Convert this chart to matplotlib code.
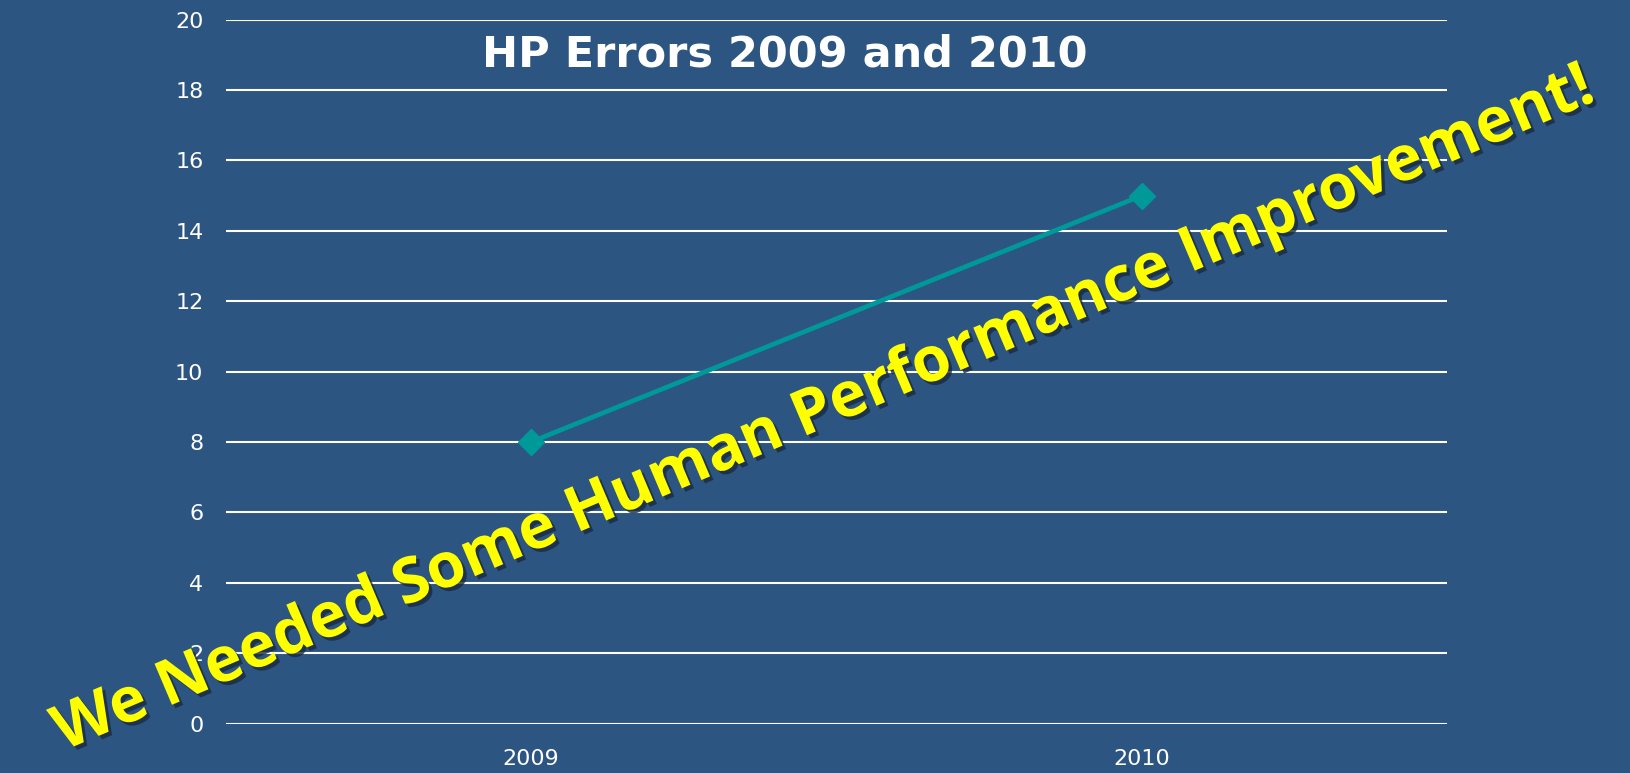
import matplotlib.pyplot as plt
import matplotlib.patheffects as pe

# data
years = ['2009', '2010']
errors = [8, 15]
y_ticks = [0, 2, 4, 6, 8, 10, 12, 14, 16, 18, 20]

bg = '#2c5582'

fig = plt.figure(figsize=(16.3, 7.73), dpi=100, facecolor=bg)
ax = fig.add_axes([0.1384, 0.064, 0.7493, 0.9105], facecolor=bg)

x = range(len(years))
ax.plot(x, errors, color='#009999', lw=3.4, marker='D', markersize=13, zorder=3)

ax.set_xlim(-0.5, len(years) - 0.5)
ax.set_ylim(0, 20)
ax.set_yticks(y_ticks)
ax.set_xticks(list(x))
ax.set_xticklabels(years)
ax.grid(axis='y', color='white', lw=1.5)
ax.set_axisbelow(True)
for s in ax.spines.values():
    s.set_visible(False)
ax.tick_params(axis='y', length=0, pad=16, labelsize=16, labelcolor='white')
ax.tick_params(axis='x', length=0, pad=18, labelsize=16, labelcolor='white')

ax.text(0.458, 0.951, 'HP Errors 2009 and 2010', transform=ax.transAxes,
        ha='center', va='center', color='white', fontsize=31, fontweight='bold')

# slanted banner across the chart
fig.text(0.505, 0.469, 'We Needed Some Human Performance Improvement!',
         ha='center', va='center', rotation=23, rotation_mode='anchor',
         color='#ffff00', fontsize=45, fontweight='bold', family='Open Sans',
         path_effects=[pe.SimplePatchShadow(offset=(2.5, -2.5), shadow_rgbFace='#1a2a40', alpha=0.8),
                       pe.Normal()])

plt.savefig('out.png', dpi=100, facecolor=bg)
